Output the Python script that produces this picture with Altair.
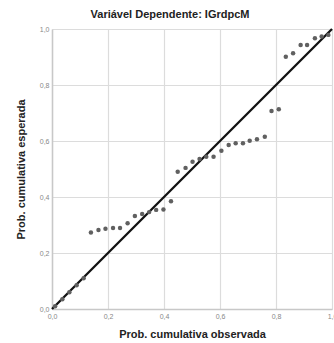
import altair as alt
import pandas as pd

observed = [0.011, 0.037, 0.062, 0.088, 0.113,
            0.139, 0.166, 0.191, 0.218, 0.243, 0.270, 0.296, 0.322, 0.347, 0.372,
            0.398, 0.425, 0.449, 0.477, 0.502, 0.527, 0.551, 0.577, 0.605, 0.631,
            0.656, 0.682, 0.706, 0.732, 0.760, 0.784, 0.810, 0.835, 0.861, 0.888,
            0.911, 0.939, 0.963, 0.987]
expected = [0.010, 0.035, 0.060, 0.085, 0.110,
            0.273, 0.282, 0.287, 0.289, 0.289, 0.306, 0.332, 0.339, 0.346, 0.354,
            0.355, 0.385, 0.490, 0.504, 0.526, 0.536, 0.544, 0.544, 0.565, 0.586,
            0.592, 0.592, 0.601, 0.606, 0.615, 0.707, 0.713, 0.901, 0.913, 0.943,
            0.943, 0.967, 0.973, 0.979]
line_x = [0.0, 1.0]
line_y = [0.0, 1.0]
ticks = [0.0, 0.2, 0.4, 0.6, 0.8, 1.0]

pts = pd.DataFrame({"obs": observed, "exp": expected})
ref = pd.DataFrame({"obs": line_x, "exp": line_y})

label_expr = "replace(format(datum.value, '.1f'), '.', ',')"
font = "Liberation Sans"

xenc = alt.X("obs:Q", scale=alt.Scale(domain=[0, 1], nice=False),
             axis=alt.Axis(values=ticks, labelExpr=label_expr, title="Prob. cumulativa observada",
                           titleFont=font, titleFontSize=11, titleFontWeight="bold", titleColor="#222",
                           titlePadding=9, labelFont=font, labelFontSize=7, labelColor="#888",
                           ticks=False, labelPadding=3, domainColor="#c8c8c8", gridColor="#dcdcdc",
                           domainWidth=1.5, gridWidth=1.2, labelFlush=False))
yenc = alt.Y("exp:Q", scale=alt.Scale(domain=[0, 1], nice=False),
             axis=alt.Axis(values=ticks, labelExpr=label_expr, title="Prob. cumulativa esperada",
                           titleFont=font, titleFontSize=11, titleFontWeight="bold", titleColor="#222",
                           titlePadding=13, labelFont=font, labelFontSize=7, labelColor="#888",
                           ticks=False, labelPadding=3, domainColor="#c8c8c8", gridColor="#dcdcdc",
                           domainWidth=1.5, gridWidth=1.2, labelFlush=False))

points = alt.Chart(pts).mark_circle(size=20, color="#606060", opacity=1).encode(x=xenc, y=yenc)
line = alt.Chart(ref).mark_line(color="#111", strokeWidth=2.3).encode(x=xenc, y=yenc)

chart = (line + points).properties(
    width=280, height=280,
    autosize=alt.AutoSizeParams(type="none"),
    padding={"left": 52, "top": 29, "right": 2, "bottom": 34},
    title=alt.TitleParams("Variável Dependente: IGrdpcM", font=font, fontSize=11,
                          fontWeight="bold", color="#222", frame="group", anchor="middle",
                          offset=4, dx=-22),
).configure_view(stroke=None)

chart.save("out.html", embed_options={"renderer": "svg", "actions": False})
